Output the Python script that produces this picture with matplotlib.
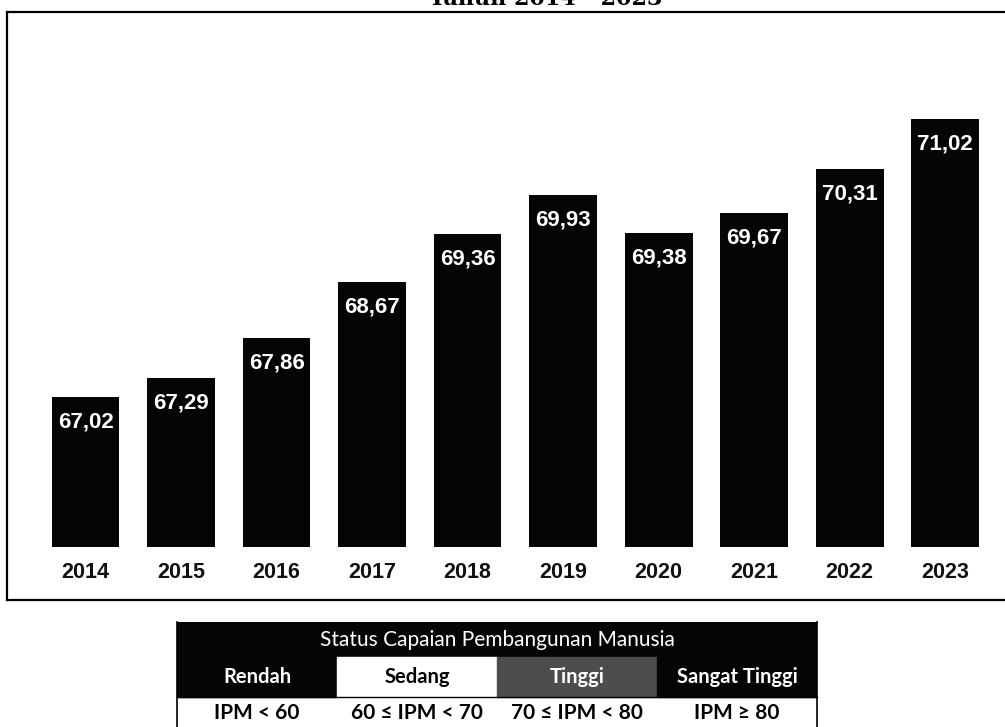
import numpy as np
import matplotlib.pyplot as plt
from matplotlib.patches import Rectangle

years = ['2014', '2015', '2016', '2017', '2018', '2019', '2020', '2021', '2022', '2023']
ipm = [67.02, 67.29, 67.86, 68.67, 69.36, 69.93, 69.38, 69.67, 70.31, 71.02]

status_title = 'Status Capaian Pembangunan Manusia'
status_labels = ['Rendah', 'Sedang', 'Tinggi', 'Sangat Tinggi']
status_ranges = ['IPM < 60', '60 ≤ IPM < 70', '70 ≤ IPM < 80', 'IPM ≥ 80']
status_fill = ['#050505', '#ffffff', '#4d4d4d', '#050505']
status_text = ['white', 'black', 'white', 'white']

W, H = 1005, 727
fig = plt.figure(figsize=(W / 100, H / 100), dpi=100)


def px_axes(left, top, right, bottom):
    return fig.add_axes([left / W, 1 - bottom / H, (right - left) / W, (bottom - top) / H])


# title, cut off at the top edge as in the scan
fig.text(546 / W, 1 - 5 / H, 'Tahun 2014 - 2023', ha='center', va='baseline',
         fontsize=16, fontweight='bold', family='DejaVu Serif')

# bar chart inside its frame
ax = px_axes(7, 11.5, 1012, 600)
base = 64.85
x = np.arange(len(years))
ax.bar(x, np.array(ipm) - base, bottom=base, width=0.71, color='#050505')
ax.set_xlim(-0.822, 9.70)
ax.set_ylim(64.085, 72.577)
ax.set_xticks([])
ax.set_yticks([])
for s in ax.spines.values():
    s.set_color('black')
    s.set_linewidth(1.6)

for xi, v, yr in zip(x, ipm, years):
    ax.annotate(f'{v:.2f}'.replace('.', ','), (xi, v), xytext=(0, -25),
                textcoords='offset pixels', ha='center', va='center',
                color='white', fontsize=16, fontweight='bold', family='Liberation Sans')
    ax.annotate(yr, (xi, base), xytext=(0, -26), textcoords='offset pixels',
                ha='center', va='center', color='#111111', fontsize=15.5,
                fontweight='bold', family='Liberation Sans')

# status table
tax = px_axes(177, 622, 817, 727)
tax.set_xlim(0, 4)
tax.set_ylim(105, 0)
tax.axis('off')
tax.add_patch(Rectangle((0, 0), 4, 35, color='#050505'))
tax.text(2, 17.5, status_title, ha='center', va='center', color='white',
         fontsize=15, family='Lato')
for i, (lab, rng, fc, tc) in enumerate(zip(status_labels, status_ranges, status_fill, status_text)):
    tax.add_patch(Rectangle((i, 35), 1, 40, color=fc))
    tax.text(i + 0.5, 55, lab, ha='center', va='center', color=tc,
             fontsize=14.5, fontweight='bold', family='Lato')
    tax.text(i + 0.5, 91, rng, ha='center', va='center', color='black',
             fontsize=15, fontweight='bold', family='Lato')
tax.plot([0, 0], [0, 105], color='black', lw=1.2, clip_on=False)
tax.plot([4, 4], [0, 105], color='black', lw=1.2, clip_on=False)
tax.plot([0, 4], [75, 75], color='black', lw=1.0, clip_on=False)

plt.savefig('out.png', dpi=100)
